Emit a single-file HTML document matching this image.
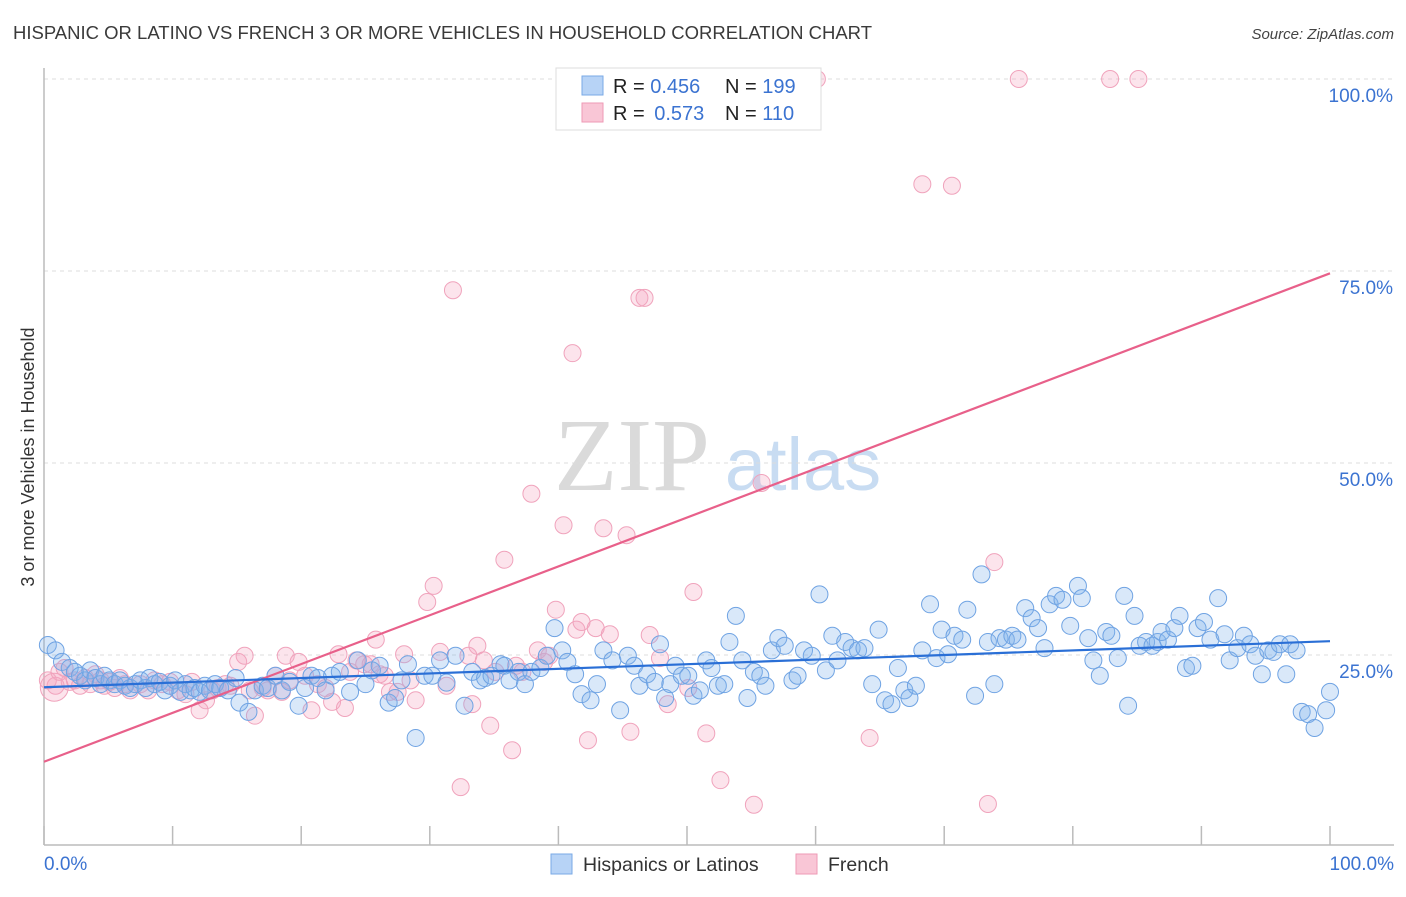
<!DOCTYPE html>
<html><head><meta charset="utf-8"><style>
html,body{margin:0;padding:0;background:#fff;}
body{width:1406px;height:892px;overflow:hidden;font-family:"Liberation Sans",sans-serif;}
</style></head><body>
<svg id="chart" width="1406" height="892" xmlns="http://www.w3.org/2000/svg" font-family="Liberation Sans, sans-serif">
<text x="13" y="39" font-size="18.5" fill="#3a3a3a">HISPANIC OR LATINO VS FRENCH 3 OR MORE VEHICLES IN HOUSEHOLD CORRELATION CHART</text>
<text x="1394" y="39" font-size="15" fill="#444" font-style="italic" text-anchor="end">Source: ZipAtlas.com</text>
<text transform="translate(34,457) rotate(-90)" font-size="18" fill="#333" text-anchor="middle">3 or more Vehicles in Household</text>
<g>
<text x="632" y="490" font-size="104" font-family="Liberation Serif, serif" fill="#dadada" text-anchor="middle">ZIP</text>
<text x="803" y="490" font-size="74" fill="#c8dcf2" text-anchor="middle">atlas</text>
</g>
<g id="grid"></g>
<g id="axes"></g>
<g id="pinkPts"></g>
<g id="bluePts"></g>
<g id="lines"></g>
<g>
<rect x="556" y="68" width="265" height="62" fill="#fff" stroke="#ddd"/>
<rect x="582" y="76" width="21" height="19" fill="#b7d3f6" stroke="#7aaae6"/>
<rect x="582" y="103" width="21" height="19" fill="#f9c6d6" stroke="#ee9ab5"/>
<text x="613" y="93" font-size="20" fill="#222">R = <tspan fill="#3b73d1">0.456</tspan></text>
<text x="725" y="93" font-size="20" fill="#222">N = <tspan fill="#3b73d1">199</tspan></text>
<text x="613" y="120" font-size="20" fill="#222">R = <tspan fill="#3b73d1" dx="4">0.573</tspan></text>
<text x="725" y="120" font-size="20" fill="#222">N = <tspan fill="#3b73d1">110</tspan></text>
</g>
<g>
<rect x="551" y="854" width="21" height="20" fill="#b7d3f6" stroke="#7aaae6"/>
<text x="583" y="871" font-size="19.5" fill="#333">Hispanics or Latinos</text>
<rect x="796" y="854" width="21" height="20" fill="#f9c6d6" stroke="#ee9ab5"/>
<text x="828" y="871" font-size="19.5" fill="#333">French</text>
</g>
</svg>
<script>
const blueX=[0.3,0.9,1.4,2.0,2.4,2.8,3.2,3.6,4.0,4.4,4.7,5.1,5.5,5.9,6.3,6.7,7.1,7.5,7.9,8.2,8.6,9.0,9.4,9.8,10.2,10.6,11.0,11.4,11.7,12.1,12.5,12.9,13.3,13.7,14.3,14.9,15.2,15.9,16.4,17.0,17.4,18.0,18.5,19.1,19.8,20.3,20.8,21.3,21.9,22.4,23.0,23.8,24.4,25.0,25.5,26.1,26.8,27.3,27.8,28.3,28.9,29.6,30.2,30.8,31.3,32.0,32.7,33.3,33.9,34.3,34.8,35.5,35.8,36.2,36.9,37.4,37.9,38.6,39.1,39.7,40.3,40.7,41.3,41.8,42.5,43.0,43.5,44.2,44.8,45.4,45.9,46.3,46.9,47.5,47.9,48.3,48.7,49.1,49.6,50.1,50.5,51.0,51.5,51.9,52.4,52.9,53.3,53.8,54.3,54.7,55.2,55.7,56.1,56.6,57.1,57.6,58.2,58.6,59.1,59.7,60.3,60.8,61.3,61.7,62.3,62.8,63.3,63.8,64.4,64.9,65.4,65.9,66.4,66.9,67.3,67.8,68.3,68.9,69.4,69.8,70.3,70.8,71.4,71.8,72.4,72.9,73.4,73.9,74.3,74.8,75.3,75.7,76.3,76.8,77.3,77.8,78.2,78.7,79.2,79.8,80.4,80.7,81.2,81.6,82.1,82.6,83.0,83.5,84.0,84.3,84.8,85.2,85.7,86.2,86.6,86.9,87.4,87.9,88.3,88.8,89.3,89.7,90.2,90.7,91.3,91.8,92.2,92.8,93.3,93.8,94.2,94.7,95.2,95.6,96.1,96.6,96.9,97.4,97.8,98.3,98.8,99.7,100];
const blueY=[26.3,25.6,24.1,23.3,22.8,22.3,21.7,23.0,22.0,21.2,22.3,21.7,21.2,21.7,21.0,20.7,21.2,21.7,20.7,22.0,21.2,21.5,20.4,21.0,21.7,20.2,21.2,20.4,20.7,20.2,21.0,20.4,21.2,20.7,20.4,22.0,18.8,17.6,20.4,21.0,20.7,22.3,20.4,21.5,18.4,20.7,22.3,22.0,20.4,22.3,22.8,20.2,24.3,21.2,23.0,23.6,18.8,19.4,21.7,23.8,14.2,22.3,22.3,24.3,21.4,24.9,18.4,22.8,21.7,22.0,22.3,23.8,23.6,21.7,22.8,21.2,22.8,23.3,24.9,28.5,25.6,24.1,22.5,19.9,19.1,21.2,25.6,24.3,17.8,24.9,23.6,21.0,22.5,21.5,26.4,19.4,21.2,23.6,22.3,22.3,19.7,20.4,24.3,23.3,21.0,21.2,26.7,30.1,24.3,19.4,22.8,22.3,21.0,25.6,27.2,26.2,21.7,22.3,25.6,24.9,32.9,23.0,27.5,24.3,26.7,25.9,25.6,25.9,21.2,28.3,19.1,18.6,23.3,20.4,19.4,21.0,25.6,31.6,24.6,28.3,25.1,27.5,27.0,30.9,19.7,35.5,26.7,21.2,27.2,27.0,27.5,27.0,31.1,29.8,28.5,25.9,31.6,32.7,32.2,28.8,34.0,32.4,27.2,24.3,22.3,28.0,27.5,24.6,32.7,18.4,30.1,26.2,26.7,26.2,26.7,28.0,27.0,28.5,30.1,23.3,23.6,28.5,29.3,27.0,32.4,27.7,24.3,25.9,27.5,26.4,24.9,22.5,25.6,25.4,26.4,22.5,26.4,25.6,17.6,17.3,15.5,17.8,20.2];
const pinkX=[0.3,0.9,1.2,1.6,2.0,2.4,2.8,3.2,3.6,4.0,4.4,4.7,5.1,5.5,5.9,6.3,6.7,7.5,8.1,8.6,9.2,9.8,10.4,11.0,11.5,12.1,12.6,13.1,13.5,14.1,14.5,15.1,15.6,16.0,16.4,17.0,17.4,18.0,18.5,18.8,19.1,19.8,20.3,20.8,21.3,21.9,22.4,22.9,23.4,23.8,24.3,24.9,25.4,25.8,26.1,26.5,26.9,27.5,28.0,28.5,28.9,29.8,30.3,30.8,31.3,31.8,32.4,33.0,33.3,33.7,34.2,34.7,35.1,35.8,36.4,36.7,37.2,37.9,38.4,38.9,39.3,39.8,40.4,41.1,41.4,41.8,42.3,42.9,43.5,44.0,45.3,45.6,46.3,46.7,47.1,47.9,48.5,50.1,50.5,51.5,52.6,55.2,55.8,60.1,64.2,68.3,70.6,73.4,73.9,75.8,82.9,85.1];
const pinkY=[21.7,21.0,22.8,23.3,21.5,21.7,21.0,22.0,21.2,22.5,21.7,21.0,21.5,20.7,22.0,21.2,20.4,21.2,20.4,21.7,21.2,21.5,20.4,19.9,21.5,17.8,19.1,20.4,20.7,21.2,21.0,24.1,24.9,20.4,17.1,20.7,20.4,22.3,20.2,24.9,21.7,24.1,22.3,17.8,21.2,20.7,18.9,25.1,18.1,22.8,24.3,23.8,23.8,27.0,22.5,22.3,20.2,20.2,25.1,21.7,19.1,31.9,34.0,25.4,21.0,72.5,7.8,24.9,18.6,26.2,24.3,15.8,22.8,37.4,12.6,23.6,22.8,46.0,25.6,24.1,24.9,30.9,41.9,64.3,28.3,29.3,13.9,28.5,41.5,27.7,40.6,15.0,71.5,71.5,27.6,24.6,18.6,20.7,33.2,14.8,8.7,5.5,47.4,100,14.2,86.3,86.1,5.6,37.1,100,100,100];
const blueTrend=[20.8,26.8];
const pinkTrend=[11.1,74.7];
const yTicks=[25,50,75,100];
const yTickLabels=["25.0%","50.0%","75.0%","100.0%"];
const xTicks=[0,10,20,30,40,50,60,70,80,90,100];

const NS="http://www.w3.org/2000/svg";
const X0=44,X1=1330,Y0=847,Y100=79;
function sx(v){return X0+(X1-X0)*v/100;}
function sy(v){return Y0-(Y0-Y100)*v/100;}
function mk(tag,attrs,parent){const e=document.createElementNS(NS,tag);for(const k in attrs)e.setAttribute(k,attrs[k]);parent.appendChild(e);return e;}
const grid=document.getElementById('grid'),axes=document.getElementById('axes');
yTicks.forEach((t,i)=>{
  const l=mk('line',{x1:44,x2:1394,y1:sy(t),y2:sy(t),stroke:'#dcdcdc','stroke-dasharray':'4,4'},grid);
  
  
  const tx=mk('text',{x:1393,y:sy(t)+23,'font-size':19,fill:'#3b73d1','text-anchor':'end'},grid);
  tx.textContent=yTickLabels[i];
  
  
});
const ya=mk('line',{x1:44,x2:44,y1:68,y2:845,stroke:'#bbb','stroke-width':1.5},axes);


const xa=mk('line',{x1:44,x2:1394,y1:845,y2:845,stroke:'#bbb','stroke-width':1.5},axes);


xTicks.forEach(t=>{
  const l=mk('line',{x1:sx(t),x2:sx(t),y1:826,y2:845,stroke:'#bbb','stroke-width':1.5},axes);
  
  
});
const xl0=mk('text',{x:44,y:870,'font-size':19,fill:'#3b73d1'},axes);xl0.textContent='0.0%';


const xl1=mk('text',{x:1394,y:870,'font-size':19,fill:'#3b73d1','text-anchor':'end'},axes);xl1.textContent='100.0%';



const pg=document.getElementById('pinkPts');
pinkX.forEach((x,i)=>{
  const c=mk('circle',{cx:sx(x),cy:sy(pinkY[i]),r:8.5,fill:'rgba(244,165,192,0.3)',stroke:'#f0a3bc','stroke-width':1},pg);
  
  
});
const big=mk('circle',{cx:sx(0.8),cy:sy(20.8),r:14,fill:'rgba(244,165,192,0.3)',stroke:'#f0a3bc'},pg);


const bg=document.getElementById('bluePts');
blueX.forEach((x,i)=>{
  const c=mk('circle',{cx:sx(x),cy:sy(blueY[i]),r:8.5,fill:'rgba(130,178,235,0.3)',stroke:'#6fa3e3','stroke-width':1},bg);
  
  
});
const lg=document.getElementById('lines');
const pl=mk('line',{x1:sx(0),y1:sy(pinkTrend[0]),x2:sx(100),y2:sy(pinkTrend[1]),stroke:'#e8608a','stroke-width':2.2},lg);


const bl=mk('line',{x1:sx(0),y1:sy(blueTrend[0]),x2:sx(100),y2:sy(blueTrend[1]),stroke:'#2a6fd6','stroke-width':2.2},lg);


</script>
</body></html>
